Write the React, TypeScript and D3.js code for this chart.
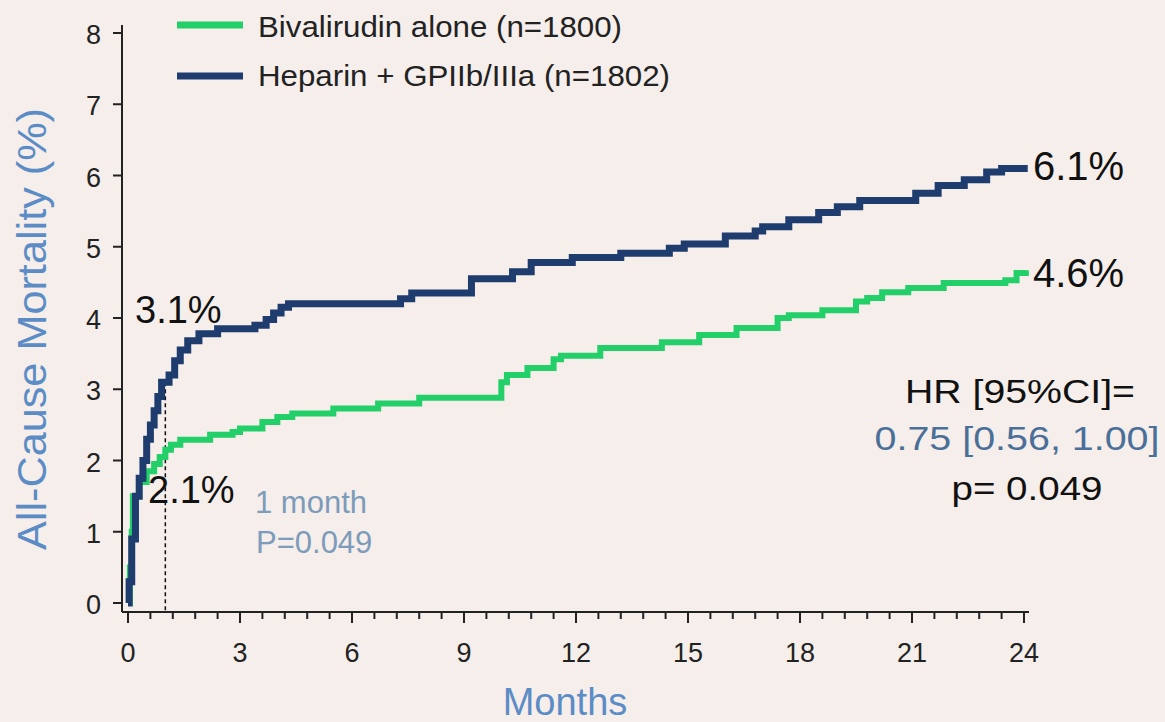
import React from "react";
import * as d3 from "d3";

// ---- Data ----
const heparinMonths = [0, 0.03, 0.1, 0.2, 0.3, 0.4, 0.5, 0.6, 0.7, 0.8, 0.9, 1.1, 1.25, 1.4, 1.6, 1.9, 2.4, 3.4, 3.7, 3.9, 4.1, 4.3, 7.3, 7.6, 9.2, 10.3, 10.8, 11.9, 13.2, 14.5, 14.9, 16.0, 16.8, 17.0, 17.7, 18.5, 19.0, 19.6, 21.1, 21.7, 22.4, 23.0, 23.4, 24.1];
const heparinValues = [0, 0.3, 0.9, 1.5, 1.75, 2.0, 2.3, 2.5, 2.7, 2.9, 3.1, 3.2, 3.4, 3.55, 3.68, 3.78, 3.85, 3.9, 3.98, 4.07, 4.15, 4.2, 4.27, 4.35, 4.55, 4.65, 4.78, 4.85, 4.91, 4.98, 5.04, 5.15, 5.22, 5.28, 5.38, 5.48, 5.56, 5.65, 5.75, 5.86, 5.94, 6.05, 6.1, 6.1];

const bivalMonths = [0, 0.05, 0.1, 0.13, 0.3, 0.5, 0.7, 0.85, 1.0, 1.15, 1.4, 2.2, 2.8, 3.0, 3.6, 4.0, 4.4, 5.5, 6.7, 7.8, 10.0, 10.15, 10.7, 11.4, 11.6, 12.65, 14.3, 15.3, 16.3, 17.4, 17.7, 18.6, 19.5, 19.8, 20.2, 20.9, 21.85, 23.5, 23.8, 24.05];
const bivalValues = [0, 0.5, 1.0, 1.5, 1.7, 1.85, 1.95, 2.05, 2.15, 2.22, 2.29, 2.36, 2.4, 2.45, 2.54, 2.61, 2.66, 2.73, 2.8, 2.88, 3.1, 3.2, 3.3, 3.42, 3.47, 3.58, 3.66, 3.76, 3.86, 4.0, 4.04, 4.11, 4.23, 4.28, 4.36, 4.42, 4.49, 4.53, 4.63, 4.67];

const xMajorTicks = [0, 3, 6, 9, 12, 15, 18, 21, 24];
const xMinorTicks = d3.range(0, 24.01, 0.6);
const yTicks = [0, 1, 2, 3, 4, 5, 6, 7, 8];

const legendLabels = ["Bivalirudin alone (n=1800)", "Heparin + GPIIb/IIIa (n=1802)"];
const seriesColors = ["#22cf68", "#1f3c6e"];

const FONT = "'Liberation Sans', Arial, sans-serif";

export default function App() {
  const W = 1165;
  const H = 722;
  const x = d3.scaleLinear().domain([0, 24]).range([128, 1024]);
  const y = d3.scaleLinear().domain([0, 8]).range([603, 33]);
  const axisY = 612;
  const axisX = 122;

  const line = d3
    .line<[number, number]>()
    .x((d) => x(d[0]))
    .y((d) => y(d[1]))
    .curve(d3.curveStepAfter);

  const bival: [number, number][] = bivalMonths.map((m, i) => [m, bivalValues[i]]);
  const hep: [number, number][] = heparinMonths.map((m, i) => [m, heparinValues[i]]);

  return (
    <svg width={W} height={H} style={{ position: "absolute", left: 0, top: 0, background: "#f5eeea" }} fontFamily={FONT}>
      <rect x={0} y={0} width={W} height={H} fill="#f5eeea" />

      {/* Legend */}
      {legendLabels.map((lab, i) => (
        <g key={lab}>
          <line x1={177} x2={243} y1={25 + i * 51} y2={25 + i * 51} stroke={seriesColors[i]} strokeWidth={7} />
          <text x={258} y={37 + i * 49} fontSize={30} fill="#222" textLength={i === 0 ? 364 : 412} lengthAdjust="spacingAndGlyphs">
            {lab}
          </text>
        </g>
      ))}

      {/* Axes */}
      <line x1={axisX} x2={axisX} y1={25} y2={axisY} stroke="#222" strokeWidth={2} />
      <line x1={axisX} x2={1029} y1={axisY} y2={axisY} stroke="#222" strokeWidth={2} />
      {yTicks.map((t) => (
        <g key={"y" + t}>
          <line x1={113} x2={axisX} y1={y(t)} y2={y(t)} stroke="#222" strokeWidth={2} />
          <text x={101} y={y(t) + 11} fontSize={27} textAnchor="end" fill="#222">
            {t}
          </text>
        </g>
      ))}
      {xMinorTicks.map((t) => (
        <line key={"xm" + t} x1={x(t)} x2={x(t)} y1={axisY} y2={axisY + 7} stroke="#222" strokeWidth={2} />
      ))}
      {xMajorTicks.map((t) => (
        <g key={"x" + t}>
          <line x1={x(t)} x2={x(t)} y1={axisY} y2={axisY + 11} stroke="#222" strokeWidth={2} />
          <text x={x(t)} y={662} fontSize={27} textAnchor="middle" fill="#222">
            {t}
          </text>
        </g>
      ))}

      {/* Axis titles */}
      <text
        transform="translate(46,329) rotate(-90)"
        fontSize={40}
        textAnchor="middle"
        fill="#5b8cc6"
        textLength={442}
        lengthAdjust="spacingAndGlyphs"
      >
        All-Cause Mortality (%)
      </text>
      <text x={565} y={715} fontSize={38} textAnchor="middle" fill="#5b8cc6">
        Months
      </text>

      {/* Dashed 1-month marker */}
      <line x1={x(1)} x2={x(1)} y1={y(3.1)} y2={axisY} stroke="#111" strokeWidth={1.5} strokeDasharray="4,3" />

      {/* Curves */}
      <path d={line(bival) || ""} fill="none" stroke={seriesColors[0]} strokeWidth={6} />
      <path d={line(hep) || ""} fill="none" stroke={seriesColors[1]} strokeWidth={7} />

      {/* Annotations */}
      <text x={135} y={323} fontSize={38} fill="#111">3.1%</text>
      <text x={148} y={503} fontSize={38} fill="#111">2.1%</text>
      <text x={255} y={513} fontSize={31} fill="#7d9bba">1 month</text>
      <text x={256} y={553} fontSize={31} fill="#7d9bba">P=0.049</text>
      <text x={1033} y={180} fontSize={40} fill="#111">6.1%</text>
      <text x={1033} y={287} fontSize={40} fill="#111">4.6%</text>

      <text x={1020} y={403} fontSize={33} textAnchor="middle" fill="#111" textLength={230} lengthAdjust="spacingAndGlyphs">
        HR [95%CI]=
      </text>
      <text x={1017} y={450} fontSize={33} textAnchor="middle" fill="#4a6f98" textLength={285} lengthAdjust="spacingAndGlyphs">
        0.75 [0.56, 1.00]
      </text>
      <text x={1027} y={500} fontSize={33} textAnchor="middle" fill="#111" textLength={151} lengthAdjust="spacingAndGlyphs">
        p= 0.049
      </text>
    </svg>
  );
}
